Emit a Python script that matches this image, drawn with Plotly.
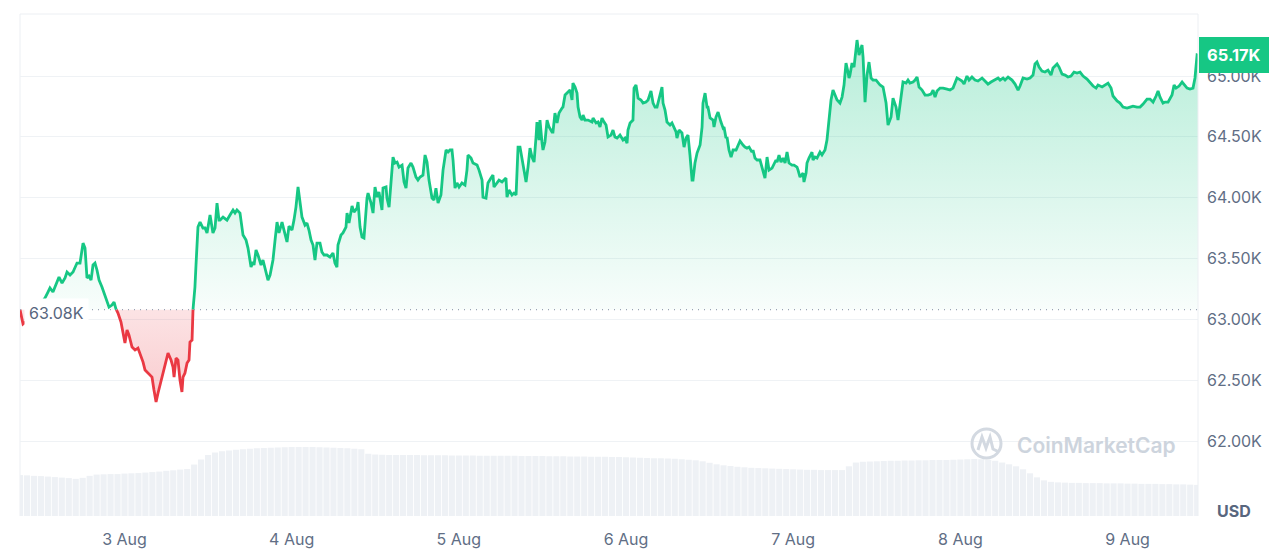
import numpy as np
import pandas as pd
import plotly.graph_objects as go

# ---------------- data ----------------
start_time = pd.Timestamp("2024-08-02 09:00")

minutes_from_start = [
    0, 26, 69, 121, 172, 215, 241, 258, 284, 310,
    336, 362, 388, 405, 431, 457, 491, 517, 534, 543,
    560, 577, 594, 612, 629, 646, 663, 681, 706, 724,
    749, 767, 792, 810, 827, 844, 870, 887, 904, 922,
    939, 965, 991, 1016, 1034, 1060, 1077, 1103, 1137, 1154,
    1172, 1189, 1215, 1232, 1258, 1275, 1301, 1318, 1327, 1344,
    1361, 1378, 1395, 1404, 1421, 1439, 1456, 1464, 1482, 1490,
    1507, 1516, 1525, 1533, 1551, 1576, 1594, 1611, 1637, 1654,
    1662, 1680, 1697, 1714, 1723, 1749, 1783, 1809, 1835, 1852,
    1869, 1895, 1921, 1947, 1964, 1990, 2007, 2016, 2033, 2050,
    2076, 2093, 2110, 2136, 2154, 2179, 2197, 2214, 2231, 2257,
    2274, 2300, 2317, 2343, 2360, 2377, 2395, 2412, 2429, 2455,
    2472, 2489, 2507, 2524, 2541, 2558, 2584, 2601, 2619, 2644,
    2670, 2696, 2713, 2730, 2739, 2765, 2782, 2808, 2817, 2834,
    2860, 2877, 2903, 2912, 2929, 2946, 2963, 2989, 2998, 3024,
    3041, 3058, 3075, 3092, 3118, 3127, 3153, 3161, 3179, 3196,
    3213, 3230, 3248, 3265, 3291, 3308, 3325, 3342, 3368, 3385,
    3411, 3428, 3446, 3471, 3489, 3506, 3523, 3549, 3566, 3583,
    3601, 3626, 3644, 3670, 3687, 3704, 3721, 3730, 3747, 3764,
    3782, 3807, 3833, 3850, 3859, 3885, 3902, 3937, 3954, 3980,
    3988, 4014, 4031, 4057, 4074, 4083, 4109, 4126, 4152, 4169,
    4186, 4195, 4212, 4238, 4255, 4273, 4290, 4307, 4324, 4341,
    4359, 4376, 4393, 4410, 4428, 4445, 4453, 4471, 4479, 4497,
    4505, 4522, 4540, 4557, 4583, 4591, 4608, 4626, 4643, 4669,
    4677, 4695, 4712, 4738, 4755, 4763, 4781, 4798, 4807, 4824,
    4841, 4850, 4867, 4893, 4927, 4936, 4962, 4979, 4996, 5013,
    5031, 5048, 5065, 5091, 5108, 5125, 5143, 5168, 5194, 5211,
    5229, 5237, 5255, 5280, 5289, 5306, 5324, 5349, 5367, 5392,
    5410, 5435, 5453, 5470, 5487, 5504, 5530, 5539, 5556, 5573,
    5599, 5616, 5634, 5651, 5659, 5677, 5702, 5720, 5737, 5754,
    5771, 5789, 5797, 5814, 5832, 5858, 5875, 5883, 5901, 5918,
    5926, 5944, 5970, 5978, 5995, 6013, 6038, 6056, 6064, 6081,
    6090, 6107, 6125, 6142, 6168, 6185, 6202, 6228, 6245, 6262,
    6280, 6305, 6314, 6331, 6349, 6374, 6400, 6417, 6435, 6452,
    6478, 6495, 6512, 6521, 6538, 6555, 6573, 6590, 6607, 6624,
    6650, 6667, 6693, 6702, 6719, 6745, 6753, 6771, 6779, 6796,
    6822, 6831, 6848, 6865, 6891, 6908, 6934, 6951, 6969, 6986,
    7003, 7020, 7038, 7063, 7081, 7098, 7115, 7132, 7141, 7149,
    7167, 7184, 7210, 7227, 7253, 7262, 7279, 7296, 7313, 7331,
    7348, 7374, 7391, 7408, 7434, 7460, 7477, 7503, 7520, 7546,
    7563, 7580, 7598, 7606, 7632, 7649, 7666, 7692, 7710, 7727,
    7744, 7770, 7796, 7822, 7847, 7865, 7882, 7899, 7925, 7951,
    7985, 8011, 8037, 8054, 8071, 8089, 8114, 8132, 8157, 8175,
    8200, 8226, 8252, 8287, 8313, 8338, 8364, 8399, 8425, 8442,
    8468, 8485, 8511, 8545, 8571, 8597, 8614, 8640, 8674, 8700,
    8726, 8743, 8760, 8778, 8803, 8829, 8855, 8881, 8898, 8933,
    8950, 8976, 9002, 9027, 9053, 9079, 9105, 9131, 9157, 9191,
    9217, 9243, 9269, 9286, 9321, 9346, 9372, 9398, 9415, 9450,
    9475, 9501, 9536, 9562, 9587, 9622, 9648, 9674, 9708, 9734,
    9760, 9786, 9803, 9820, 9846, 9863, 9889, 9923, 9941, 9958,
    9984, 10010, 10035, 10053, 10078, 10104, 10121, 10139, 10147,
]

price_usd = [
    63080, 62962, 62995, 63044, 63118, 63175, 63225, 63258, 63225, 63282,
    63348, 63299, 63340, 63389, 63364, 63389, 63463, 63463, 63553, 63627,
    63586, 63340, 63356, 63323, 63447, 63463, 63406, 63323, 63266, 63216,
    63134, 63101, 63118, 63142, 63085, 63052, 62978, 62888, 62806, 62912,
    62871, 62773, 62748, 62764, 62723, 62649, 62584, 62559, 62526, 62419,
    62321, 62395, 62501, 62567, 62666, 62723, 62666, 62608, 62526, 62682,
    62666, 62501, 62403, 62526, 62559, 62641, 62666, 62814, 62830, 63077,
    63266, 63447, 63652, 63759, 63800, 63751, 63751, 63710, 63858, 63775,
    63710, 63751, 63956, 63816, 63816, 63841, 63816, 63858, 63899, 63874,
    63899, 63874, 63693, 63652, 63586, 63430, 63471, 63447, 63570, 63529,
    63447, 63488, 63422, 63323, 63364, 63488, 63652, 63800, 63710, 63800,
    63734, 63636, 63767, 63734, 63816, 63923, 64088, 63956, 63841, 63775,
    63792, 63734, 63652, 63611, 63488, 63627, 63627, 63553, 63529, 63529,
    63512, 63545, 63463, 63430, 63611, 63693, 63710, 63759, 63874, 63792,
    63932, 63882, 63915, 63964, 63759, 63677, 63669, 63997, 64038, 63956,
    63874, 64088, 64005, 64047, 63899, 64079, 64088, 63997, 63923, 64129,
    64334, 64285, 64293, 64252, 64268, 64129, 64079, 64244, 64285, 64252,
    64170, 64145, 64170, 64186, 64351, 64293, 64145, 63997, 63981, 64079,
    63956, 64022, 64227, 64392, 64375, 64392, 64392, 64310, 64079, 64121,
    64088, 64121, 64104, 64227, 64351, 64326, 64285, 64268, 64227, 64145,
    64005, 63997, 64121, 64162, 64186, 64088, 64121, 64145, 64129, 64145,
    64162, 64005, 64063, 64022, 64038, 64022, 64416, 64416, 64310, 64227,
    64129, 64252, 64408, 64334, 64293, 64499, 64622, 64474, 64638, 64449,
    64392, 64458, 64638, 64581, 64540, 64540, 64696, 64614, 64696, 64737,
    64745, 64844, 64860, 64885, 64803, 64942, 64910, 64860, 64745, 64663,
    64638, 64679, 64638, 64638, 64622, 64655, 64614, 64622, 64581, 64655,
    64622, 64597, 64499, 64515, 64556, 64499, 64490, 64515, 64474, 64490,
    64449, 64556, 64614, 64638, 64901, 64926, 64819, 64803, 64778, 64786,
    64803, 64877, 64778, 64745, 64745, 64803, 64910, 64778, 64721, 64622,
    64597, 64614, 64573, 64540, 64490, 64556, 64532, 64416, 64490, 64515,
    64351, 64145, 64145, 64285, 64367, 64433, 64581, 64778, 64860, 64745,
    64745, 64655, 64638, 64581, 64663, 64704, 64622, 64573, 64581, 64490,
    64499, 64392, 64334, 64392, 64392, 64433, 64466, 64433, 64416, 64408,
    64416, 64375, 64392, 64326, 64310, 64310, 64227, 64162, 64334, 64227,
    64244, 64285, 64310, 64293, 64351, 64293, 64326, 64285, 64375, 64285,
    64268, 64268, 64252, 64227, 64170, 64203, 64129, 64203, 64285, 64326,
    64375, 64310, 64334, 64326, 64375, 64351, 64392, 64474, 64679, 64803,
    64885, 64844, 64803, 64778, 64827, 64926, 65107, 65033, 64984, 65008,
    65107, 65074, 65296, 65173, 65255, 65156, 64786, 65008, 65115, 64984,
    64967, 64967, 64942, 64926, 64910, 64778, 64597, 64663, 64819, 64745,
    64638, 64778, 64910, 64951, 64942, 64967, 64942, 64951, 64967, 64992,
    64910, 64885, 64844, 64844, 64852, 64885, 64827, 64877, 64901, 64901,
    64893, 64885, 64901, 64951, 64984, 64975, 64959, 64934, 65000, 64967,
    64992, 64967, 64959, 64984, 64959, 64934, 64951, 64967, 64984, 64967,
    64984, 64967, 64992, 64967, 64934, 64885, 64918, 64984, 64975, 64984,
    65008, 65099, 65115, 65074, 65041, 65033, 65049, 65008, 65066, 65099,
    65074, 65016, 65008, 64992, 65000, 65033, 65025, 65033, 65000, 64975,
    64942, 64918, 64901, 64926, 64910, 64926, 64942, 64901, 64836, 64795,
    64778, 64745, 64737, 64745, 64753, 64745, 64745, 64770, 64811, 64811,
    64786, 64836, 64877, 64827, 64778, 64786, 64786, 64844, 64926, 64901,
    64918, 64951, 64926, 64901, 64893, 64901, 64984, 65173, 65170,
]

# hourly trading volume, billions USD (bars at the bottom)
volume_billion = [
    16.3, 16.2, 16.0, 15.9, 15.7, 15.5, 15.3, 15.1, 14.8, 15.2,
    16.0, 16.5, 16.6, 16.7, 16.7, 16.9, 17.0, 17.1, 17.3, 17.5,
    17.7, 18.0, 18.2, 18.5, 18.7, 20.5, 22.5, 24.3, 25.3, 25.8,
    26.1, 26.4, 26.6, 26.8, 27.0, 27.1, 27.2, 27.3, 27.4, 27.5,
    27.5, 27.5, 27.5, 27.4, 27.3, 27.2, 27.1, 27.0, 26.8, 26.6,
    24.8, 24.5, 24.4, 24.3, 24.3, 24.3, 24.3, 24.3, 24.2, 24.2,
    24.2, 24.2, 24.1, 24.1, 24.1, 24.1, 24.0, 24.0, 24.0, 24.0,
    24.0, 24.0, 23.9, 23.9, 23.9, 23.9, 23.8, 23.8, 23.8, 23.7,
    23.7, 23.7, 23.6, 23.6, 23.6, 23.5, 23.5, 23.4, 23.3, 23.2,
    23.1, 23.0, 23.0, 22.9, 22.8, 22.6, 22.4, 22.2, 21.8, 21.2,
    20.6, 20.2, 19.9, 19.6, 19.4, 19.2, 19.1, 19.0, 18.9, 18.8,
    18.7, 18.6, 18.5, 18.4, 18.4, 18.3, 18.3, 18.3, 18.3, 19.8,
    21.3, 21.6, 21.7, 21.8, 21.9, 22.0, 22.0, 22.1, 22.1, 22.2,
    22.2, 22.3, 22.3, 22.3, 22.4, 22.5, 22.6, 22.7, 22.6, 22.4,
    22.0, 21.3, 20.6, 19.8, 18.6, 17.0, 15.4, 14.2, 13.6, 13.4,
    13.3, 13.2, 13.2, 13.1, 13.1, 13.1, 13.0, 13.0, 13.0, 12.9,
    12.9, 12.8, 12.8, 12.8, 12.7, 12.7, 12.6, 12.6, 12.5, 12.4,
]

open_price = 63080
open_label = "63.08K"
last_label = "65.17K"

y_tick_values = [62000, 62500, 63000, 63500, 64000, 64500, 65000]
y_tick_labels = ["62.00K", "62.50K", "63.00K", "63.50K", "64.00K", "64.50K", "65.00K"]
x_tick_dates = ["2024-08-03", "2024-08-04", "2024-08-05", "2024-08-06",
                "2024-08-07", "2024-08-08", "2024-08-09"]
x_tick_labels = ["3 Aug", "4 Aug", "5 Aug", "6 Aug", "7 Aug", "8 Aug", "9 Aug"]

assert len(minutes_from_start) == len(price_usd), (len(minutes_from_start), len(price_usd))

# ---------------- styling / geometry ----------------
GREEN = "#16c784"
RED = "#ea3943"
TICK = "#616e85"
GRID = "#eff2f5"

FIG_W, FIG_H = 1280, 549
PLOT_L, PLOT_T, PLOT_W, PLOT_H = 20, 14, 1178, 502


def px(x):
    return (x - PLOT_L) / PLOT_W


def py(y):
    return (PLOT_T + PLOT_H - y) / PLOT_H


# ---------------- derived series ----------------
times = list(start_time + pd.to_timedelta(minutes_from_start, unit="m"))
xs, ys = [], []
for i, (ti, pi) in enumerate(zip(times, price_usd)):
    if i > 0:
        p0 = price_usd[i - 1]
        if (p0 - open_price) * (pi - open_price) < 0:
            f = (open_price - p0) / (pi - p0)
            xs.append(times[i - 1] + (ti - times[i - 1]) * f)
            ys.append(open_price)
    xs.append(ti)
    ys.append(pi)

up_line = [y if y >= open_price else None for y in ys]
dn_line = [y if y <= open_price else None for y in ys]
up_fill = [max(y, open_price) for y in ys]
dn_fill = [min(y, open_price) for y in ys]
base = [open_price] * len(ys)

vol_times = start_time + pd.to_timedelta(np.arange(len(volume_billion)), unit="h")

fig = go.Figure()

fig.add_trace(go.Bar(x=vol_times, y=volume_billion, yaxis="y2",
                     marker=dict(color="#eef1f5", line=dict(width=0)),
                     hoverinfo="skip"))

fig.add_trace(go.Scatter(x=xs, y=base, mode="lines", line=dict(width=0),
                         hoverinfo="skip"))
fig.add_trace(go.Scatter(
    x=xs, y=up_fill, mode="lines", line=dict(width=0), fill="tonexty",
    fillgradient=dict(type="vertical",
                      colorscale=[[0, "rgba(22,199,132,0.03)"],
                                  [1, "rgba(22,199,132,0.31)"]]),
    hoverinfo="skip"))
fig.add_trace(go.Scatter(x=xs, y=base, mode="lines", line=dict(width=0),
                         hoverinfo="skip"))
fig.add_trace(go.Scatter(
    x=xs, y=dn_fill, mode="lines", line=dict(width=0), fill="tonexty",
    fillgradient=dict(type="vertical",
                      colorscale=[[0, "rgba(234,57,67,0.26)"],
                                  [1, "rgba(234,57,67,0.14)"]]),
    hoverinfo="skip"))

fig.add_trace(go.Scatter(x=xs, y=up_line, mode="lines",
                         line=dict(color=GREEN, width=2.8), connectgaps=False))
fig.add_trace(go.Scatter(x=xs, y=dn_line, mode="lines",
                         line=dict(color=RED, width=2.8), connectgaps=False))

shapes = [
    dict(type="line", xref="paper", yref="y", x0=0, x1=1, y0=open_price, y1=open_price,
         line=dict(color="#9aa4b5", width=1.3, dash="1px,5px"), layer="above"),
    dict(type="line", xref="paper", yref="paper", x0=0, x1=0, y0=0, y1=1,
         line=dict(color="#eceff3", width=1), layer="below"),
    dict(type="line", xref="paper", yref="paper", x0=1, x1=1, y0=0, y1=1,
         line=dict(color="#eceff3", width=1), layer="above"),
    dict(type="line", xref="paper", yref="paper", x0=0, x1=1, y0=1, y1=1,
         line=dict(color="#eceff3", width=1), layer="below"),
    # CoinMarketCap watermark logo
    dict(type="circle", xref="paper", yref="paper",
         x0=px(972), x1=px(1001), y0=py(458), y1=py(429),
         line=dict(color="#d3d9e1", width=3), layer="above"),
    dict(type="path", xref="paper", yref="paper",
         path=(f"M {px(978)},{py(450)} L {px(982)},{py(437)} L {px(986)},{py(448)} "
               f"L {px(990)},{py(437)} L {px(993)},{py(449)} L {px(999)},{py(452)}"),
         line=dict(color="#d3d9e1", width=3), layer="above"),
]

annotations = [
    dict(x=xs[0], y=open_price, xref="x", yref="y", text=open_label, showarrow=False,
         xanchor="left", yanchor="middle", xshift=4, yshift=-3,
         font=dict(size=16, color="#58667e"), bgcolor="white", borderpad=4),
    dict(x=xs[-1], y=price_usd[-1], xref="x", yref="y", text="<b>" + last_label + "</b>",
         showarrow=False, xanchor="left", yanchor="middle", xshift=1,
         font=dict(size=16.5, color="white"), bgcolor=GREEN, bordercolor=GREEN,
         borderwidth=1, borderpad=7),
    dict(x=px(1234), y=py(511), xref="paper", yref="paper", text="<b>USD</b>",
         showarrow=False, xanchor="center", yanchor="middle",
         font=dict(size=16, color="#58667e")),
    dict(x=px(1096), y=py(445), xref="paper", yref="paper", text="CoinMarketCap",
         showarrow=False, xanchor="center", yanchor="middle",
         font=dict(size=21, color="#cdd4dd", weight=600)),
]

fig.update_layout(
    width=FIG_W, height=FIG_H, autosize=False,
    margin=dict(l=PLOT_L, r=FIG_W - PLOT_L - PLOT_W, t=PLOT_T,
                b=FIG_H - PLOT_T - PLOT_H, autoexpand=False),
    paper_bgcolor="white", plot_bgcolor="white",
    showlegend=False, bargap=0.12,
    font=dict(family="Inter, Roboto, sans-serif", color=TICK, size=16),
    xaxis=dict(type="date", range=[xs[0], xs[-1]], tickvals=x_tick_dates,
               ticktext=x_tick_labels, showgrid=False, zeroline=False, showline=False,
               automargin=False, ticks="", ticklabelstandoff=12,
               tickfont=dict(size=16, color=TICK)),
    yaxis=dict(side="right", range=[61384, 65510], tickvals=y_tick_values,
               ticktext=y_tick_labels, showgrid=True, gridcolor=GRID, gridwidth=1,
               zeroline=False, showline=False, automargin=False, ticks="",
               ticklabelstandoff=8, tickfont=dict(size=16, color=TICK)),
    yaxis2=dict(overlaying="y", range=[0, 200], visible=False, automargin=False),
    shapes=shapes, annotations=annotations,
)

fig.write_html("out.html",
               config={"displayModeBar": False, "responsive": False},
               post_script="document.body.style.margin='0';")
